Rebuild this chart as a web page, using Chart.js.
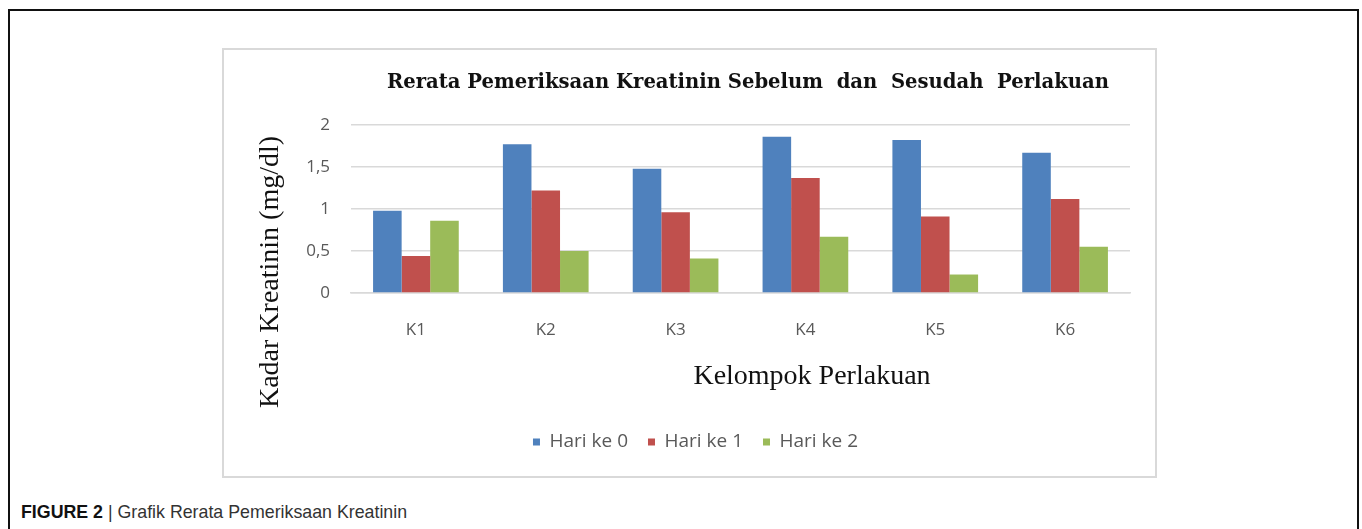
<!DOCTYPE html>
<html>
<head>
<meta charset="utf-8">
<script src="https://cdn.jsdelivr.net/npm/chart.js@4.4.1/dist/chart.umd.min.js"></script>
<style>
    html, body { margin: 0; padding: 0; background: #fff; }
    body { width: 1362px; height: 529px; position: relative; overflow: hidden; }
    #frame {
        position: absolute; left: 8px; top: 9px; width: 1351px; height: 560px;
        border: 2px solid #111; box-sizing: border-box;
    }
    #box {
        position: absolute; left: 222px; top: 48px; width: 935px; height: 430px;
        border: 2px solid #d9d9d9; box-sizing: border-box; background: #fff;
    }
    #caption {
        position: absolute; left: 21px; top: 502px;
        font-family: "Liberation Sans", Arial, sans-serif; font-size: 17.8px; color: #333;
    }
    #caption b { color: #111; }
</style>
</head>
<body>
<div id="frame"></div>
<div id="box"><canvas id="kreatininChart" width="931" height="426"></canvas></div>
<div id="caption"><b>FIGURE 2</b> | Grafik Rerata Pemeriksaan Kreatinin</div>

<script>
// Data
const groups = ['K1', 'K2', 'K3', 'K4', 'K5', 'K6'];
const hari0 = [0.98, 1.77, 1.48, 1.86, 1.82, 1.67];
const hari1 = [0.44, 1.22, 0.96, 1.37, 0.91, 1.12];
const hari2 = [0.86, 0.50, 0.41, 0.67, 0.22, 0.55];
const seriesLabels = ['Hari ke 0', 'Hari ke 1', 'Hari ke 2'];
const yTicks = [0, 0.5, 1, 1.5, 2];

const chartTitle = 'Rerata Pemeriksaan Kreatinin Sebelum  dan  Sesudah  Perlakuan';
const yTitle = 'Kadar Kreatinin (mg/dl)';
const xTitle = 'Kelompok Perlakuan';

const tickFont = { family: '"Open Sans", Lato, sans-serif', size: 17 };
const legendFont = { family: '"Open Sans", Lato, sans-serif', size: 19 };

// Titles are placed off-centre in the original, so draw them ourselves
const titlesPlugin = {
    id: 'titles',
    afterDraw(chart) {
        const ctx = chart.ctx;
        const area = chart.chartArea;
        ctx.save();
        ctx.fillStyle = '#111';
        ctx.textAlign = 'center';
        ctx.textBaseline = 'middle';

        ctx.font = 'bold 19.6px "DejaVu Serif", serif';
        ctx.fillText(chartTitle, area.left + 397, 33);

        ctx.font = '28px "Liberation Serif", "Times New Roman", serif';
        ctx.fillText(xTitle, area.left + 461, area.bottom + 84);

        ctx.translate(47, 222);
        ctx.rotate(-Math.PI / 2);
        ctx.fillText(yTitle, 0, 0);
        ctx.restore();
    }
};

const ctx = document.getElementById('kreatininChart').getContext('2d');
const chart = new Chart(ctx, {
    type: 'bar',
    data: {
        labels: groups,
        datasets: [
            { label: seriesLabels[0], data: hari0, backgroundColor: '#4f81bd' },
            { label: seriesLabels[1], data: hari1, backgroundColor: '#c0504d' },
            { label: seriesLabels[2], data: hari2, backgroundColor: '#9bbb59' }
        ]
    },
    options: {
        responsive: false,
        animation: false,
        layout: {
            padding: { left: 37, right: 25, top: 75, bottom: 14.5 }
        },
        datasets: {
            bar: { barPercentage: 1, categoryPercentage: 0.66 }
        },
        scales: {
            x: {
                grid: { display: false, drawTicks: false },
                border: { color: '#d9d9d9', width: 1.5 },
                ticks: { color: '#595959', padding: 27, font: tickFont },
                afterFit: (scale) => { scale.height = 119.5; }
            },
            y: {
                min: 0,
                max: 2,
                afterBuildTicks: (scale) => { scale.ticks = yTicks.map(v => ({ value: v })); },
                grid: { color: '#d9d9d9', lineWidth: 1.5, drawTicks: false },
                border: { display: false },
                ticks: {
                    color: '#595959',
                    padding: 21,
                    font: tickFont,
                    callback: (v) => String(v).replace('.', ',')
                },
                afterFit: (scale) => { scale.width = 90; }
            }
        },
        plugins: {
            title: { display: false },
            tooltip: { enabled: false },
            legend: {
                position: 'bottom',
                labels: {
                    boxWidth: 7,
                    boxHeight: 7,
                    padding: 20,
                    color: '#595959',
                    font: legendFont
                }
            }
        }
    },
    plugins: [titlesPlugin]
});
</script>
</body>
</html>
